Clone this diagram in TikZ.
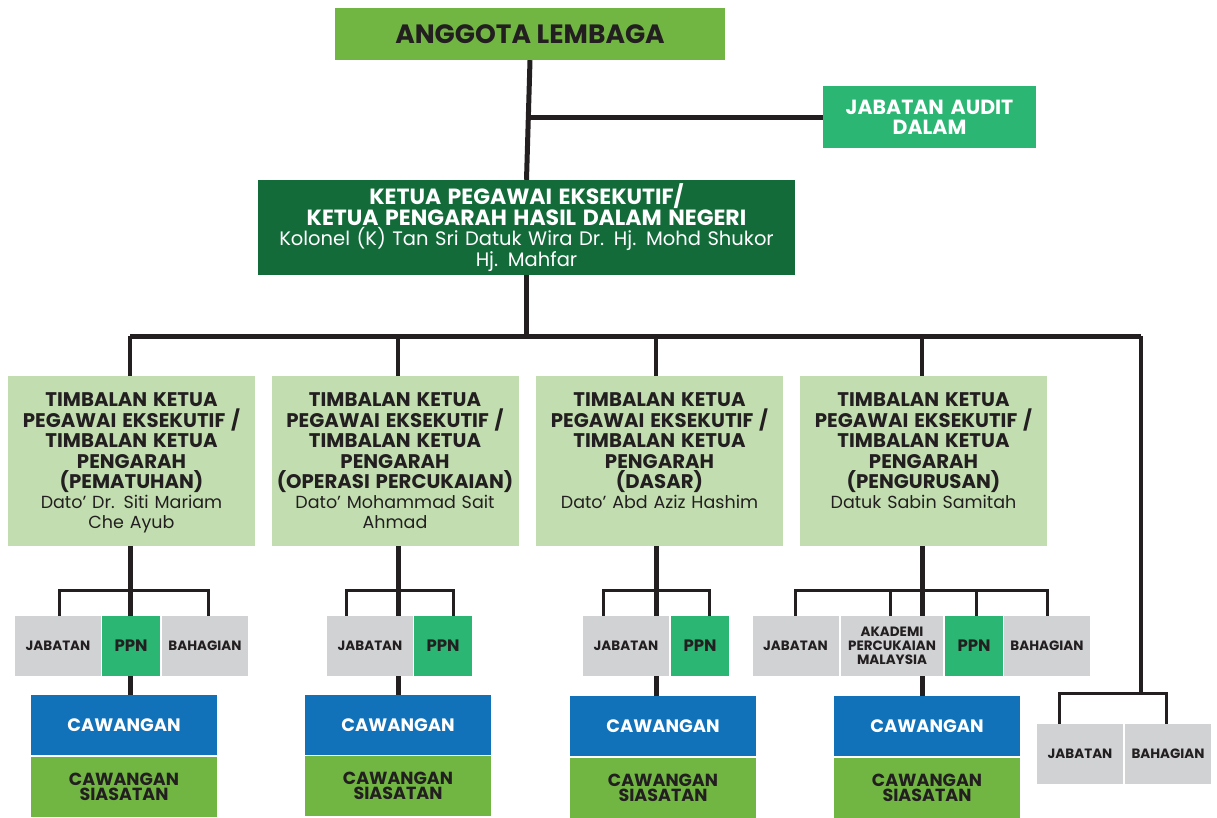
\documentclass[tikz,border=0pt]{standalone}
\usepackage{fontspec}
\setmainfont{Poppins}
\usetikzlibrary{positioning,backgrounds}
\definecolor{lembaga}{HTML}{71B643}
\definecolor{audit}{HTML}{2BB673}
\definecolor{ketua}{HTML}{146B3A}
\definecolor{timbalan}{HTML}{C2DEB0}
\definecolor{kelabu}{HTML}{D1D2D4}
\definecolor{cawangan}{HTML}{1172BA}
\definecolor{siasatan}{HTML}{71B643}
\definecolor{garis}{HTML}{231F20}
\tikzset{
  box/.style={inner sep=0pt, align=center, text=garis},
  sz/.style 2 args={minimum width=#1, minimum height=#2},
  trunk/.style={draw=garis, line width=5pt},
  drop/.style={draw=garis, line width=4pt},
  link/.style={draw=garis, line width=3pt},
  tkptext/.style={box, anchor=north, text width=245, font=\fontsize{17.5}{20}\selectfont},
  kecil/.style={box, fill=kelabu, font=\fontsize{13.5}{14}\selectfont\bfseries},
  ppn/.style={box, sz={58}{60}, fill=audit, font=\fontsize{16.5}{17}\selectfont\bfseries},
  cwg/.style={box, sz={186}{60}, fill=cawangan, text=white, font=\fontsize{18}{18}\selectfont\bfseries},
  sia/.style={box, sz={186}{60}, fill=siasatan, font=\fontsize{17.5}{15.5}\selectfont\bfseries}
}

\begin{document}
\begin{tikzpicture}[x=1pt,y=-1pt]
    \useasboundingbox (0,0) rectangle (1217,817);
    % atas
    \node[box, sz={390}{52}, fill=lembaga, font=\fontsize{26.5}{28}\selectfont\bfseries] (anggota) at (530,34) {ANGGOTA LEMBAGA};
    \node[box, sz={213}{62}, fill=audit, text=white, text width=210, font=\fontsize{20.5}{20}\selectfont\bfseries] (audit) at (929.5,117) {JABATAN AUDIT\\DALAM};
    \node[box, sz={537}{95}, fill=ketua, text=white, text width=535, font=\fontsize{19.5}{20.5}\selectfont] (ketua) at (526.5,227.5)
        {{\fontsize{22}{21}\selectfont\bfseries KETUA PEGAWAI EKSEKUTIF/\\KETUA PENGARAH HASIL DALAM NEGERI}\\Kolonel (K) Tan Sri Datuk Wira Dr. Hj. Mohd Shukor\\Hj. Mahfar};
    % timbalan
    \node[box, sz={247}{170}, fill=timbalan] (tkp1) at (131.5,461) {};
    \node[box, sz={247}{170}, fill=timbalan] (tkp2) at (395,461) {};
    \node[box, sz={247}{170}, fill=timbalan] (tkp3) at (659.5,461) {};
    \node[box, sz={247}{170}, fill=timbalan] (tkp4) at (923.5,461) {};
    \node[tkptext] (tkp1t) at ([yshift=-17]tkp1.north) {{\fontsize{19.7}{20.5}\selectfont\bfseries TIMBALAN KETUA\\PEGAWAI EKSEKUTIF /\\TIMBALAN KETUA\\PENGARAH\\(PEMATUHAN)}\\Dato’ Dr. Siti Mariam\\Che Ayub};
    \node[tkptext] (tkp2t) at ([yshift=-17]tkp2.north) {{\fontsize{19.7}{20.5}\selectfont\bfseries TIMBALAN KETUA\\PEGAWAI EKSEKUTIF /\\TIMBALAN KETUA\\PENGARAH\\(OPERASI PERCUKAIAN)}\\Dato’ Mohammad Sait\\Ahmad};
    \node[tkptext] (tkp3t) at ([yshift=-17]tkp3.north) {{\fontsize{19.7}{20.5}\selectfont\bfseries TIMBALAN KETUA\\PEGAWAI EKSEKUTIF /\\TIMBALAN KETUA\\PENGARAH\\(DASAR)}\\Dato’ Abd Aziz Hashim};
    \node[tkptext] (tkp4t) at ([yshift=-17]tkp4.north) {{\fontsize{19.7}{20.5}\selectfont\bfseries TIMBALAN KETUA\\PEGAWAI EKSEKUTIF /\\TIMBALAN KETUA\\PENGARAH\\(PENGURUSAN)}\\Datuk Sabin Samitah};
    % kumpulan 1
    \node[kecil, sz={86}{60}] (jab1) at (58,646) {JABATAN};
    \node[ppn] (ppn1) at (131,646) {PPN};
    \node[kecil, sz={86}{60}] (bah1) at (205,646) {BAHAGIAN};
    \node[cwg] (cwg1) at (124,725) {CAWANGAN};
    \node[sia] (sia1) at (124,787) {CAWANGAN\\SIASATAN};
    % kumpulan 2
    \node[kecil, sz={86}{60}] (jab2) at (370,646) {JABATAN};
    \node[ppn] (ppn2) at (443,646) {PPN};
    \node[cwg] (cwg2) at (398,725) {CAWANGAN};
    \node[sia] (sia2) at (398,786) {CAWANGAN\\SIASATAN};
    % kumpulan 3
    \node[kecil, sz={86}{60}] (jab3) at (626,646) {JABATAN};
    \node[ppn] (ppn3) at (700,646) {PPN};
    \node[cwg] (cwg3) at (663,726) {CAWANGAN};
    \node[sia] (sia3) at (663,788) {CAWANGAN\\SIASATAN};
    % kumpulan 4
    \node[kecil, sz={86}{60}] (jab4) at (795.5,646) {JABATAN};
    \node[kecil, sz={102}{60}] (akd4) at (892,646) {AKADEMI\\PERCUKAIAN\\MALAYSIA};
    \node[ppn] (ppn4) at (974,646) {PPN};
    \node[kecil, sz={86}{60}] (bah4) at (1047,646) {BAHAGIAN};
    \node[cwg] (cwg4) at (927,726) {CAWANGAN};
    \node[sia] (sia4) at (927,788) {CAWANGAN\\SIASATAN};
    % kumpulan 5
    \node[kecil, sz={86}{60}] (jab5) at (1080,754) {JABATAN};
    \node[kecil, sz={86}{60}] (bah5) at (1168,754) {BAHAGIAN};
    % garisan
    \coordinate (bus1) at (130,336);
    \coordinate (bus2) at (398,336);
    \coordinate (bus3) at (656,336);
    \coordinate (bus4) at (922,336);
    \coordinate (bus5) at (1141,336);
    \coordinate (brk5) at (1141,694);
    \begin{scope}[on background layer]
        \draw[trunk] (anggota.south) -- (ketua.north);
        \draw[trunk] (anggota.south |- audit.west) -- (audit.west);
        \draw[trunk] (ketua.south) -- (ketua.south |- bus1);
        \draw[trunk] (bus1) -- (bus5);
        \draw[drop] (bus1) -- (bus1 |- tkp1.north);
        \draw[drop] (bus2) -- (bus2 |- tkp2.north);
        \draw[drop] (bus3) -- (bus3 |- tkp3.north);
        \draw[drop] (bus4) -- (bus4 |- tkp4.north);
        \draw[drop] (bus5) -- (brk5);
        \draw[trunk] (bus1 |- tkp1.south) -- (bus1 |- cwg1.north);
        \draw[trunk] (bus2 |- tkp2.south) -- (bus2 |- cwg2.north);
        \draw[trunk] (bus3 |- tkp3.south) -- (bus3 |- cwg3.north);
        \draw[trunk] (bus4 |- tkp4.south) -- (bus4 |- cwg4.north);
        \draw[link] ([xshift=1]jab1.north) -- ++(0,-25) -| ([xshift=3]bah1.north);
        \draw[link] ([xshift=-24]jab2.north) -- ++(0,-25) -| ([xshift=10]ppn2.north);
        \draw[link] ([xshift=-23]jab3.north) -- ++(0,-25) -| ([xshift=9]ppn3.north);
        \draw[link] (jab4.north) -- ++(0,-25) -| (bah4.north);
        \draw[link] ([xshift=-2]akd4.north) -- ++(0,-25);
        \draw[link] ([xshift=2]ppn4.north) -- ++(0,-25);
        \draw[link] ([xshift=-21]jab5.north) -- ++(0,-30) -| ([xshift=-2]bah5.north);
    \end{scope}
\end{tikzpicture}
\end{document}
